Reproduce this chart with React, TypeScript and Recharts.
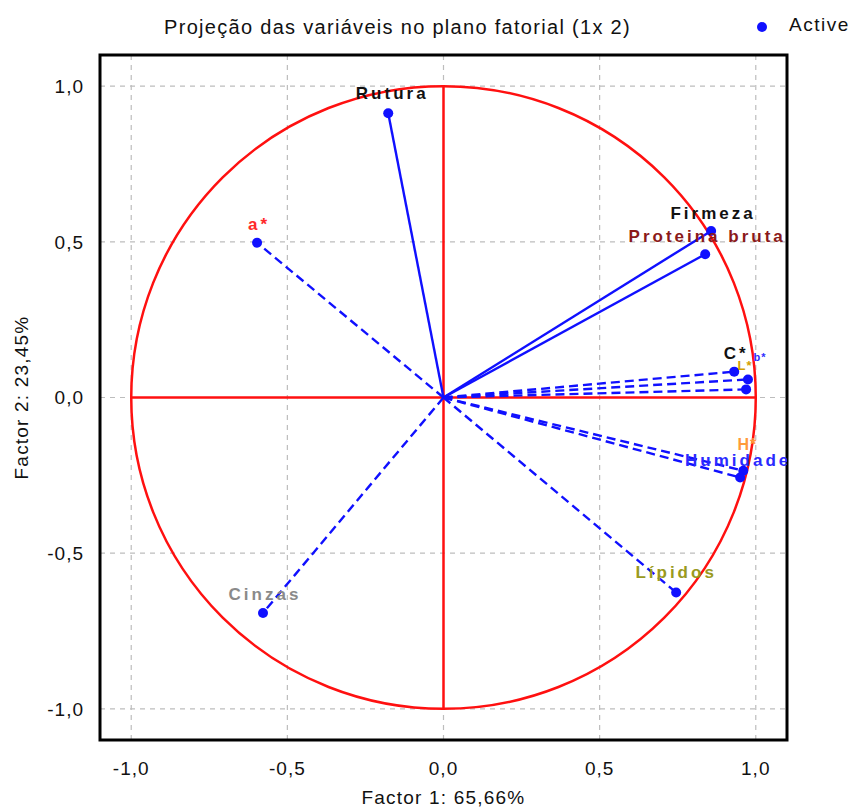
import React from 'react';
import {
  ComposedChart, Scatter, XAxis, YAxis, CartesianGrid, ReferenceLine, ReferenceArea,
} from 'recharts';

const variableNames = ['Rutura', 'a*', 'Firmeza', 'Proteina bruta', 'C*', 'L*', 'b*', 'H*', 'Humidade', 'Lípidos', 'Cinzas'];
const factor1 = [-0.177, -0.597, 0.857, 0.838, 0.931, 0.975, 0.969, 0.96, 0.95, 0.745, -0.578];
const factor2 = [0.913, 0.497, 0.535, 0.46, 0.083, 0.058, 0.026, -0.235, -0.257, -0.626, -0.692];
const solidVectors = ['Rutura', 'Firmeza', 'Proteina bruta'];
const axisTicks = [-1, -0.5, 0, 0.5, 1];

const labelStyle: Record<string, { color: string; dx: number; dy: number; size: number }> = {
  'Rutura': { color: '#111111', dx: 4, dy: -14, size: 17 },
  'a*': { color: '#ff2a2a', dx: 2, dy: -13, size: 17 },
  'Firmeza': { color: '#111111', dx: 2, dy: -12, size: 17 },
  'Proteina bruta': { color: '#8b1a1a', dx: 2, dy: -12, size: 17 },
  'C*': { color: '#111111', dx: 2, dy: -13, size: 17 },
  'L*': { color: '#d4a000', dx: -3, dy: -9, size: 13 },
  'b*': { color: '#3030ff', dx: 14, dy: -28, size: 11 },
  'H*': { color: '#ff9a3a', dx: 4, dy: -21, size: 16 },
  'Humidade': { color: '#2a2aff', dx: -2, dy: -12, size: 17 },
  'Lípidos': { color: '#9a9a20', dx: 0, dy: -14, size: 17 },
  'Cinzas': { color: '#8a8a8a', dx: 2, dy: -13, size: 17 },
};

const points = variableNames.map((name, i) => ({ name, x: factor1[i], y: factor2[i] }));

const fmt = (v: number) => v.toFixed(1).replace('.', ',');

const BLUE = '#1010ff';
const RED = '#ff1010';
const FONT = 'Liberation Sans, Arial, sans-serif';

const DotShape = (props: any) => {
  const { cx, cy, payload } = props;
  const s = labelStyle[payload.name];
  return (
    <g>
      <circle cx={cx} cy={cy} r={5} fill={BLUE} />
      <text
        x={cx + s.dx}
        y={cy + s.dy}
        textAnchor="middle"
        fill={s.color}
        fontSize={s.size}
        fontWeight="bold"
        fontFamily={FONT}
        letterSpacing={s.size >= 17 ? 3 : 1}
      >
        {payload.name}
      </text>
    </g>
  );
};

const CircleShape = (props: any) => {
  const { x, y, width, height } = props;
  return (
    <ellipse
      cx={x + width / 2}
      cy={y + height / 2}
      rx={Math.abs(width) / 2}
      ry={Math.abs(height) / 2}
      fill="none"
      stroke={RED}
      strokeWidth={2.5}
    />
  );
};

export default function App() {
  return (
    <div style={{ position: 'absolute', left: 0, top: 0, width: 852, height: 812, background: '#fff' }}>
      <div
        style={{
          position: 'absolute', left: 0, width: 795, top: 16, textAlign: 'center',
          fontFamily: FONT, fontSize: 20, letterSpacing: 1.3, color: '#111',
        }}
      >
        Projeção das variáveis no plano fatorial (1x 2)
      </div>
      <div style={{ position: 'absolute', left: 757, top: 22, width: 10, height: 10, borderRadius: 5, background: BLUE }} />
      <div
        style={{
          position: 'absolute', left: 789, top: 14,
          fontFamily: FONT, fontSize: 19, letterSpacing: 1.5, color: '#111',
        }}
      >
        Active
      </div>
      <ComposedChart width={852} height={812} margin={{ top: 55, right: 65, bottom: 0, left: 0 }}>
        <CartesianGrid stroke="#bdbdbd" strokeDasharray="5 5" strokeWidth={1.2} />
        <XAxis
          type="number"
          dataKey="x"
          domain={[-1.1, 1.1]}
          ticks={axisTicks}
          tickFormatter={fmt}
          allowDataOverflow
          height={72}
          axisLine={false}
          tickLine={false}
          tickMargin={16}
          tick={{ fill: '#111', fontSize: 19, letterSpacing: 1, fontFamily: FONT }}
          label={{ value: 'Factor 1: 65,66%', position: 'insideBottom', offset: 8, fill: '#111', fontSize: 19, letterSpacing: 1.2, fontFamily: FONT }}
        />
        <YAxis
          type="number"
          dataKey="y"
          domain={[-1.1, 1.1]}
          ticks={axisTicks}
          tickFormatter={fmt}
          allowDataOverflow
          width={100}
          axisLine={false}
          tickLine={false}
          tickMargin={10}
          tick={{ fill: '#111', fontSize: 19, letterSpacing: 1, fontFamily: FONT }}
          label={(p: any) => {
            const vb = p.viewBox || {};
            const cy = (vb.y || 0) + (vb.height || 0) / 2;
            return (
              <text
                x={28}
                y={cy}
                transform={`rotate(-90 28 ${cy})`}
                textAnchor="middle"
                fill="#111"
                fontSize={19}
                letterSpacing={1.2}
                fontFamily={FONT}
              >
                Factor 2: 23,45%
              </text>
            );
          }}
        />
        <ReferenceArea x1={-1} x2={1} y1={-1} y2={1} shape={<CircleShape />} ifOverflow="visible" />
        <ReferenceLine segment={[{ x: -1, y: 0 }, { x: 1, y: 0 }]} stroke={RED} strokeWidth={2.5} />
        <ReferenceLine segment={[{ x: 0, y: -1 }, { x: 0, y: 1 }]} stroke={RED} strokeWidth={2.5} />
        {points.map((p) => (
          <ReferenceLine
            key={p.name}
            segment={[{ x: 0, y: 0 }, { x: p.x, y: p.y }]}
            stroke={BLUE}
            strokeWidth={2.4}
            strokeDasharray={solidVectors.includes(p.name) ? undefined : '9 5'}
          />
        ))}
        <ReferenceArea
          x1={-1.1} x2={1.1} y1={-1.1} y2={1.1}
          fill="none" fillOpacity={0} stroke="#000" strokeWidth={3} ifOverflow="visible"
        />
        <Scatter data={points} dataKey="y" shape={<DotShape />} isAnimationActive={false} />
      </ComposedChart>
    </div>
  );
}
